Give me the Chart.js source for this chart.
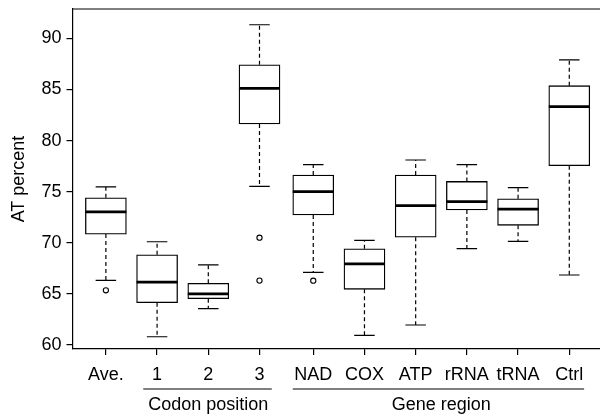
<!DOCTYPE html>
<html>
<head>
<meta charset="utf-8">
<script src="https://cdn.jsdelivr.net/npm/chart.js@4"></script>
<style>
  body { margin: 0; background: #fff; }
  #wrap { width: 600px; height: 416px; position: relative; }
</style>
</head>
<body>
<div id="wrap"><canvas id="atChart"></canvas></div>
<script>
// box plot data
var categories = ['Ave.', '1', '2', '3', 'NAD', 'COX', 'ATP', 'rRNA', 'tRNA', 'Ctrl'];
var positions = [1, 2, 3, 4, 5.05, 6.05, 7.05, 8.05, 9.05, 10.05];
var whiskerLow = [66.32, 60.81, 63.55, 75.52, 67.11, 60.95, 61.96, 69.42, 70.14, 66.85];
var q1 = [70.85, 64.14, 64.53, 81.62, 72.72, 65.45, 70.54, 73.21, 71.71, 77.54];
var medians = [73.03, 66.16, 65.00, 85.10, 75.00, 67.93, 73.63, 74.02, 73.30, 83.32];
var q3 = [74.40, 68.83, 66.04, 87.42, 76.63, 69.42, 76.63, 76.00, 74.31, 85.37];
var whiskerHigh = [75.47, 70.10, 67.83, 91.33, 77.64, 70.24, 78.10, 77.64, 75.39, 87.90];
var outlierGroup = [0, 3, 3, 4];
var outlierValue = [65.35, 70.50, 66.30, 66.29];
var yTicks = [60, 65, 70, 75, 80, 85, 90];
var groupNames = ['Codon position', 'Gene region'];
var groupCenter = [3, 7.55];
var groupLineFrom = [1.73, 4.65];
var groupLineTo = [4.24, 10.34];

var FONT = "'Liberation Sans', Arial, sans-serif";
var BOX_W = 41;

var boxData = positions.map(function (p, i) {
    return { x: p, y: [q1[i], q3[i]] };
});
var outlierData = outlierGroup.map(function (g, i) {
    return { x: positions[g], y: outlierValue[i] };
});

// whiskers, caps, medians, top frame line and the group labels under the axis
var boxExtras = {
    id: 'boxExtras',
    afterDatasetsDraw: function (chart) {
        var ctx = chart.ctx;
        var xs = chart.scales.x, ys = chart.scales.y;
        var area = chart.chartArea;
        ctx.save();
        ctx.strokeStyle = '#000';

        for (var i = 0; i < positions.length; i++) {
            var cx = xs.getPixelForValue(positions[i]);
            var yLo = ys.getPixelForValue(whiskerLow[i]);
            var yQ1 = ys.getPixelForValue(q1[i]);
            var yMed = ys.getPixelForValue(medians[i]);
            var yQ3 = ys.getPixelForValue(q3[i]);
            var yHi = ys.getPixelForValue(whiskerHigh[i]);

            // dashed whiskers
            ctx.lineWidth = 1.2;
            ctx.setLineDash([4, 3]);
            ctx.beginPath();
            ctx.moveTo(cx, yQ3); ctx.lineTo(cx, yHi);
            ctx.moveTo(cx, yQ1); ctx.lineTo(cx, yLo);
            ctx.stroke();

            // caps
            ctx.setLineDash([]);
            ctx.beginPath();
            ctx.moveTo(cx - BOX_W / 4, yHi); ctx.lineTo(cx + BOX_W / 4, yHi);
            ctx.moveTo(cx - BOX_W / 4, yLo); ctx.lineTo(cx + BOX_W / 4, yLo);
            ctx.stroke();

            // median
            ctx.lineWidth = 2.8;
            ctx.beginPath();
            ctx.moveTo(cx - BOX_W / 2, yMed); ctx.lineTo(cx + BOX_W / 2, yMed);
            ctx.stroke();
        }

        // top frame line
        ctx.lineWidth = 1.2;
        ctx.beginPath();
        ctx.moveTo(area.left, area.top);
        ctx.lineTo(chart.width, area.top);
        ctx.stroke();

        // group labels
        ctx.fillStyle = '#000';
        ctx.font = '18px ' + FONT;
        ctx.textAlign = 'center';
        ctx.textBaseline = 'middle';
        ctx.lineWidth = 1.2;
        for (var g = 0; g < groupNames.length; g++) {
            ctx.beginPath();
            ctx.moveTo(xs.getPixelForValue(groupLineFrom[g]), 389);
            ctx.lineTo(xs.getPixelForValue(groupLineTo[g]), 389);
            ctx.stroke();
            ctx.fillText(groupNames[g], xs.getPixelForValue(groupCenter[g]), 405);
        }
        ctx.restore();
    }
};

var ctx = document.getElementById('atChart').getContext('2d');
var atChart = new Chart(ctx, {
    type: 'bar',
    data: {
        datasets: [{
            type: 'bar',
            data: boxData,
            backgroundColor: '#ffffff',
            borderColor: '#000000',
            borderWidth: 1.3,
            borderSkipped: false,
            barThickness: BOX_W,
            grouped: false,
            order: 2
        }, {
            type: 'scatter',
            data: outlierData,
            pointRadius: 2.6,
            pointHoverRadius: 2.6,
            pointBackgroundColor: '#ffffff',
            pointBorderColor: '#000000',
            pointBorderWidth: 1.1,
            order: 1
        }]
    },
    options: {
        responsive: true,
        maintainAspectRatio: false,
        animation: false,
        // no extra room for point markers, the plot runs to the right edge
        layout: { autoPadding: false, padding: { top: 9, left: 0, right: 0, bottom: 0 } },
        plugins: {
            legend: { display: false },
            tooltip: { enabled: false }
        },
        scales: {
            x: {
                type: 'linear',
                min: 0.348,
                max: 10.65,
                offset: false,
                afterBuildTicks: function (scale) {
                    scale.ticks = positions.map(function (p) { return { value: p }; });
                },
                afterFit: function (scale) {
                    scale.height = 67;
                },
                ticks: {
                    autoSkip: false,
                    maxRotation: 0,
                    color: '#000',
                    padding: 3,
                    // tall line height pushes the labels down without widening the side padding
                    font: { family: FONT, size: 18, lineHeight: 1.867 },
                    callback: function (value, index) {
                        return categories[index];
                    }
                },
                grid: { offset: false, drawOnChartArea: false, drawTicks: true, tickLength: 6, color: '#000', lineWidth: 1.2 },
                border: { display: true, color: '#000', width: 1.2 }
            },
            y: {
                min: 59.61,
                max: 92.87,
                afterBuildTicks: function (scale) {
                    scale.ticks = yTicks.map(function (v) { return { value: v }; });
                },
                afterFit: function (scale) {
                    scale.width = 72.5;
                    scale.paddingTop = 0;
                    scale.paddingBottom = 0;
                },
                ticks: {
                    color: '#000',
                    padding: 5,
                    font: { family: FONT, size: 18 }
                },
                grid: { drawOnChartArea: false, drawTicks: true, tickLength: 6, color: '#000', lineWidth: 1.2 },
                border: { display: true, color: '#000', width: 1.2 },
                title: {
                    display: true,
                    text: 'AT percent',
                    color: '#000',
                    font: { family: FONT, size: 18 },
                    padding: { top: 8, bottom: 0 }
                }
            }
        }
    },
    plugins: [boxExtras]
});
</script>
</body>
</html>
